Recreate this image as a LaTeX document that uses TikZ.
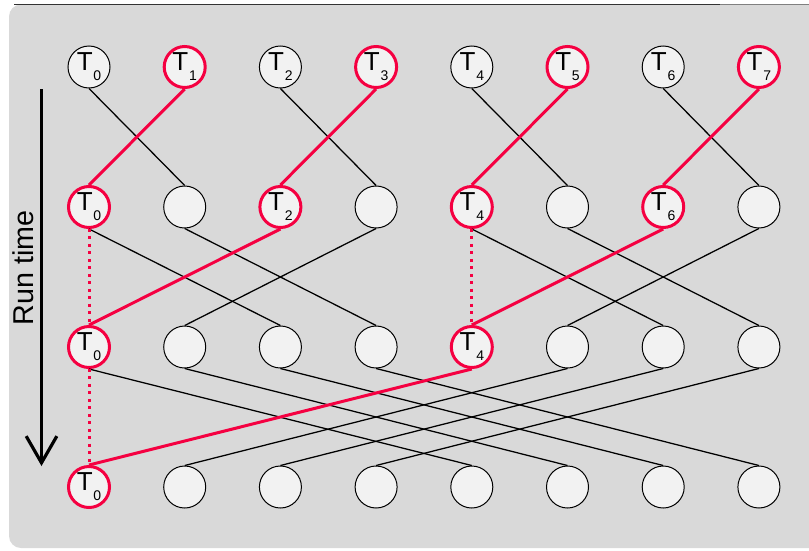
\documentclass[tikz,border=0pt]{standalone}
\usepackage{fontspec}
\setmainfont{Liberation Sans}
\usetikzlibrary{arrows.meta}
\definecolor{hot}{RGB}{245,0,65}
\definecolor{bgg}{RGB}{217,217,217}
\definecolor{cf}{RGB}{242,242,242}
\newcommand\tlab[1]{{\fontsize{19.5}{20}\selectfont T}\kern0.6pt\raisebox{-7.5pt}{\fontsize{10.5}{11}\selectfont #1}}
\tikzset{
  cell/.style={circle,draw=black,line width=0.75pt,fill=cf,minimum size=31.5pt,inner sep=0pt},
  hotcell/.style={cell,draw=hot,line width=2.25pt,minimum size=30.75pt},
  wire/.style={line width=0.95pt,black},
  hotwire/.style={line width=2.25pt,hot},
  hotdots/.style={line width=2.25pt,hot,dash pattern=on 2.2pt off 3.4pt}
}
\begin{document}
\begin{tikzpicture}[x=0.75pt,y=-0.75pt]
\useasboundingbox (0,0) rectangle (809,550);
\begin{scope}
\clip (0,0) rectangle (809,550);
\fill[bgg,rounded corners=9pt] (9,4.5) rectangle (830,548);
\draw[line width=1.2pt,black!80] (14,4.5) -- (720,4.5);
\draw[line width=1.2pt,black!50] (720,4.5) -- (809,4.5);
\end{scope}
% rows
\foreach \i in {0,...,7}{
  \pgfmathsetmacro\xx{89+95.7*\i}
  \pgfmathtruncatemacro\odd{mod(\i,2)}
  \ifnum\odd=1
    \node[hotcell] (a\i) at (\xx,67) {\tlab{\i}};
    \node[cell] (b\i) at (\xx,207) {};
  \else
    \node[cell] (a\i) at (\xx,67) {\tlab{\i}};
    \node[hotcell] (b\i) at (\xx,207) {\tlab{\i}};
  \fi
}
\foreach \i in {0,...,7}{
  \pgfmathsetmacro\xx{89+95.7*\i}
  \ifnum\i=0
    \node[hotcell] (c\i) at (\xx,347) {\tlab{0}};
  \else\ifnum\i=4
    \node[hotcell] (c\i) at (\xx,347) {\tlab{4}};
  \else
    \node[cell] (c\i) at (\xx,347) {};
  \fi\fi
  \ifnum\i=0
    \node[hotcell] (d\i) at (\xx,487) {\tlab{0}};
  \else
    \node[cell] (d\i) at (\xx,487) {};
  \fi
}
% black wires
\foreach \s/\t in {0/1,2/3,4/5,6/7}{\draw[wire] (a\s.south) -- (b\t.north);}
\foreach \s/\t in {0/2,1/3,3/1,4/6,5/7,7/5}{\draw[wire] (b\s.south) -- (c\t.north);}
\foreach \s/\t in {0/4,1/5,2/6,3/7,5/1,6/2,7/3}{\draw[wire] (c\s.south) -- (d\t.north);}
% red wires
\foreach \s/\t in {1/0,3/2,5/4,7/6}{\draw[hotwire] (a\s.south) -- (b\t.north);}
\foreach \s/\t in {2/0,6/4}{\draw[hotwire] (b\s.south) -- (c\t.north);}
\draw[hotwire] (c4.south) -- (d0.north);
\draw[hotdots] (b0.south) -- (c0.north);
\draw[hotdots] (b4.south) -- (c4.north);
\draw[hotdots] (c0.south) -- (d0.north);
% run time arrow
\coordinate (rt1) at (41.5,89);
\coordinate (rt2) at (41.5,466);
\draw[line width=2.4pt,-{Straight Barb[length=20pt,width=23pt]}] (rt1) -- (rt2);
\node[rotate=90,font=\fontsize{21.5}{22}\selectfont,inner sep=0pt] (rtl) at (23.5,268) {Run time};
\end{tikzpicture}
\end{document}
